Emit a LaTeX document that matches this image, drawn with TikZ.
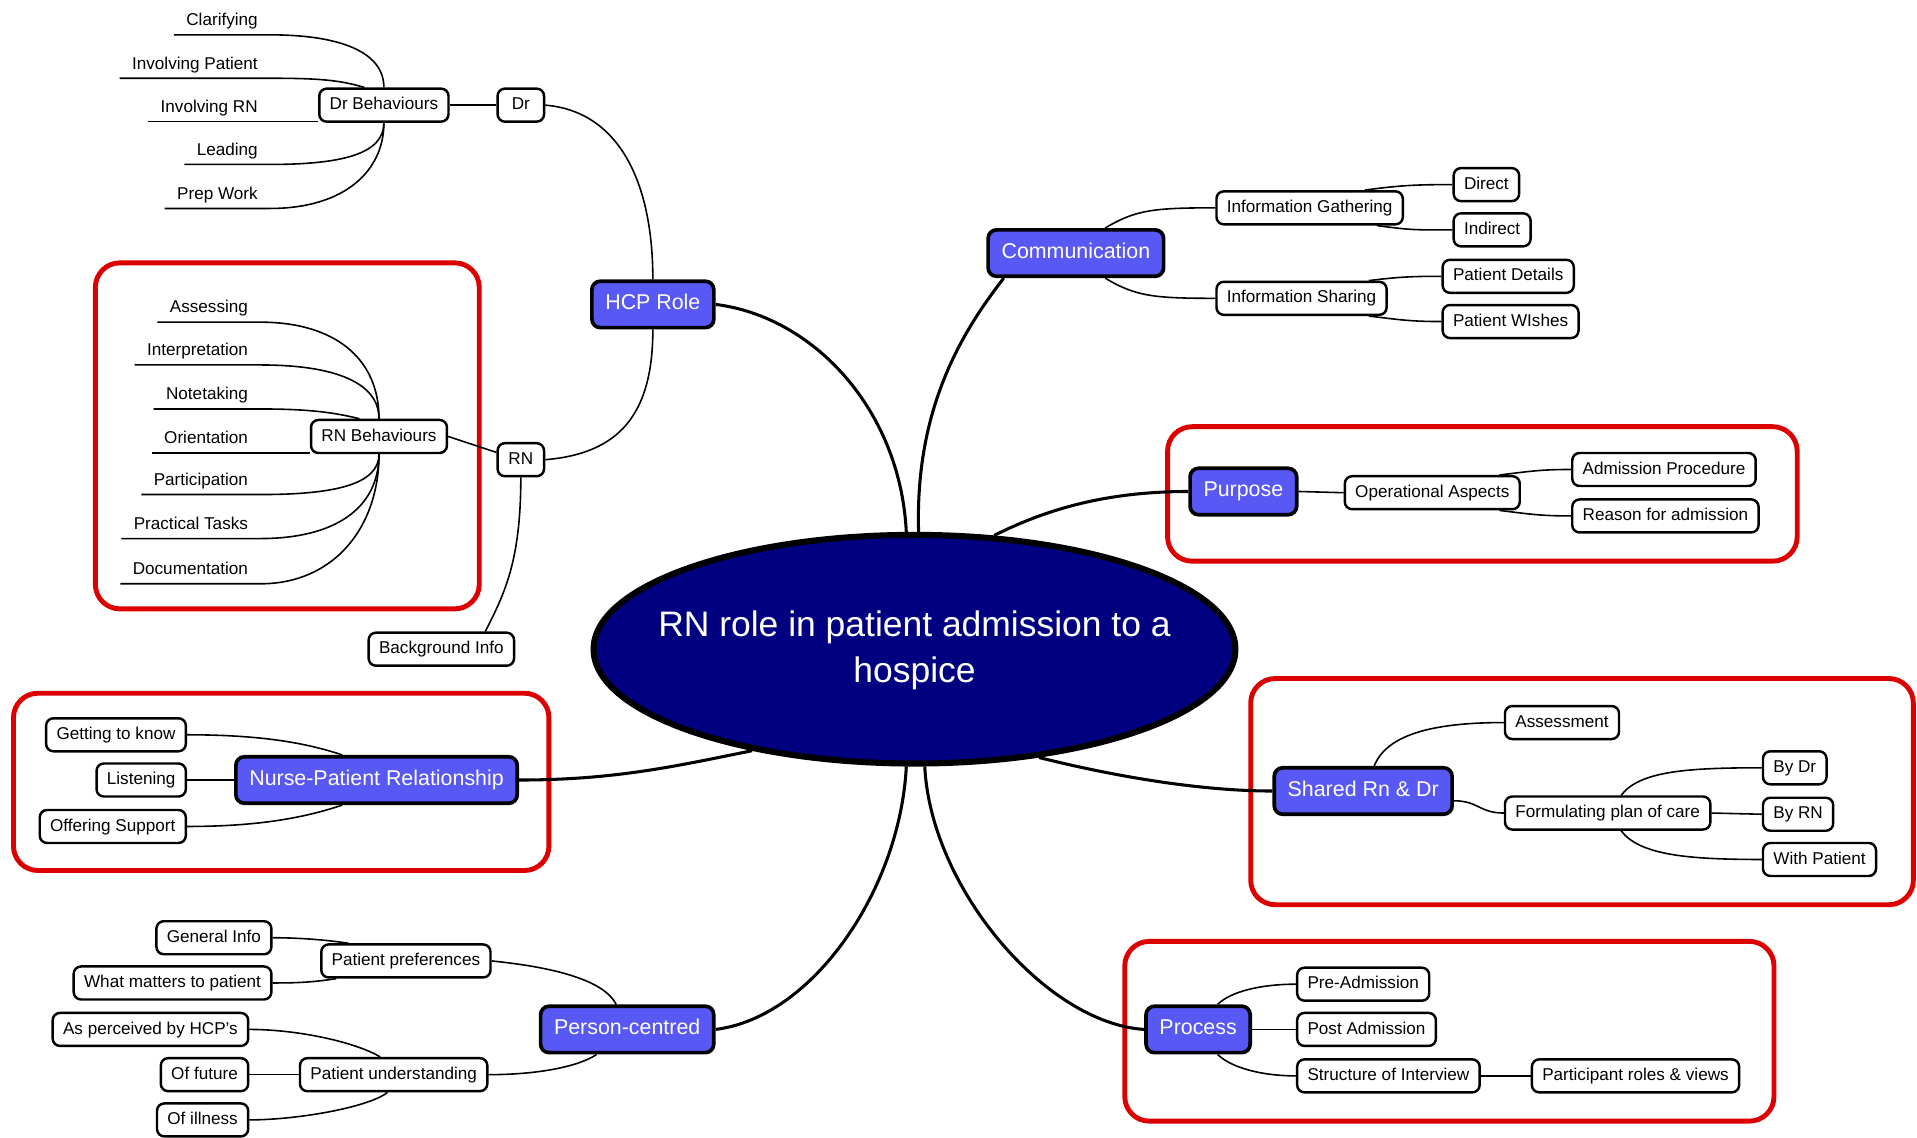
\documentclass[tikz,border=0pt]{standalone}
\usepackage{fontspec}
\setmainfont{Liberation Sans}
\usetikzlibrary{shapes.geometric,calc}

\definecolor{mainblue}{RGB}{88,88,245}
\definecolor{hubnavy}{RGB}{0,0,128}
\definecolor{grpred}{RGB}{220,0,0}

\pgfdeclarelayer{back}
\pgfdeclarelayer{edges}
\pgfsetlayers{back,edges,main}

\begin{document}
\begin{tikzpicture}[x=1pt,y=-1pt,
  hub/.style={ellipse,draw=black,line width=5pt,fill=hubnavy,
    minimum width=525pt,minimum height=187pt,inner sep=0pt},
  hubtext/.style={text=white,align=center,inner sep=0pt,
    font=\fontsize{29}{37}\selectfont},
  topic/.style={draw=black,line width=3pt,rounded corners=7pt,fill=mainblue,
    text=white,font=\fontsize{17.5}{20}\selectfont,minimum height=38pt,
    inner xsep=11pt,inner ysep=0pt,text height=13pt,text depth=4pt},
  item/.style={draw=black,line width=2pt,rounded corners=6pt,fill=white,
    font=\fontsize{14}{16}\selectfont,minimum height=27pt,minimum width=38pt,
    inner xsep=8.5pt,inner ysep=0pt,text height=10.5pt,text depth=3pt},
  uleaf/.style={inner xsep=10pt,inner ysep=0pt,anchor=base east,
    font=\fontsize{14}{16}\selectfont},
  group/.style={draw=grpred,line width=4pt,rounded corners=20pt},
  trunk/.style={line width=2.5pt},
  twig/.style={line width=1.3pt},
]
\useasboundingbox (0,0) rectangle (1568,930);

% ---------- central topic ----------
\node[hub] (hub) at (748,531) {};
\node[hubtext] (hubtext) at (748,532) {RN role in patient admission to a\\hospice};

% ---------- main topics ----------
\node[topic] (hcp) at (534,249) {HCP Role};
\node[topic] (comm) at (880,207) {Communication};
\node[topic] (purp) at (1017,402) {Purpose};
\node[topic] (shared) at (1115,647) {Shared Rn \& Dr};
\node[topic] (proc) at (980,842) {Process};
\node[topic] (pc) at (513,842) {Person-centred};
\node[topic] (npr) at (308,638) {Nurse-Patient Relationship};

% ---------- HCP role branch ----------
\node[item] (drb) at (314,86) {Dr Behaviours};
\node[item] (dr) at (426,86) {Dr};
\node[item] (rnb) at (310,357) {RN Behaviours};
\node[item] (rn) at (426,376) {RN};
\node[item] (bg) at (361,531) {Background Info};

\node[uleaf] (clar) at (221,21) {Clarifying};
\node[uleaf] (invp) at (221,56.5) {Involving Patient};
\node[uleaf] (invrn) at (221,92) {Involving RN};
\node[uleaf] (lead) at (221,127) {Leading};
\node[uleaf] (prep) at (221,163) {Prep Work};

\node[uleaf] (asg) at (213,256) {Assessing};
\node[uleaf] (intp) at (213,291) {Interpretation};
\node[uleaf] (note) at (213,327) {Notetaking};
\node[uleaf] (orient) at (213,363) {Orientation};
\node[uleaf] (part) at (213,397) {Participation};
\node[uleaf] (prac) at (213,433) {Practical Tasks};
\node[uleaf] (docu) at (213,470) {Documentation};

% ---------- communication branch ----------
\node[item,anchor=west] (ig) at (994,170) {Information Gathering};
\node[item,anchor=west] (direct) at (1188,151) {Direct};
\node[item,anchor=west] (indirect) at (1188,188) {Indirect};
\node[item,anchor=west] (is) at (994,244) {Information Sharing};
\node[item,anchor=west] (pdet) at (1179,226) {Patient Details};
\node[item,anchor=west] (pwish) at (1179,263) {Patient WIshes};

% ---------- purpose branch ----------
\node[item,anchor=west] (oa) at (1099,403) {Operational Aspects};
\node[item,anchor=west] (ap) at (1285,384) {Admission Procedure};
\node[item,anchor=west] (rfa) at (1285,422) {Reason for admission};

% ---------- shared branch ----------
\node[item,anchor=west] (assess) at (1230,591) {Assessment};
\node[item,anchor=west] (fpc) at (1230,665) {Formulating plan of care};
\node[item,anchor=west] (bydr) at (1441,628) {By Dr};
\node[item,anchor=west] (byrn) at (1441,666) {By RN};
\node[item,anchor=west] (withp) at (1441,703) {With Patient};

% ---------- process branch ----------
\node[item,anchor=west] (pre) at (1060,805) {Pre-Admission};
\node[item,anchor=west] (post) at (1060,842) {Post Admission};
\node[item,anchor=west] (soi) at (1060,880) {Structure of Interview};
\node[item,anchor=west] (prv) at (1252,880) {Participant roles \& views};

% ---------- nurse-patient branch ----------
\node[item,anchor=east] (gtk) at (153,601) {Getting to know};
\node[item,anchor=east] (listen) at (153,638) {Listening};
\node[item,anchor=east] (offer) at (153,676) {Offering Support};

% ---------- person-centred branch ----------
\node[item] (pp) at (332,786) {Patient preferences};
\node[item,anchor=east] (geninfo) at (223,767) {General Info};
\node[item,anchor=east] (wm) at (223,804) {What matters to patient};
\node[item] (pu) at (322,879) {Patient understanding};
\node[item,anchor=east] (aph) at (204,842) {As perceived by HCP's};
\node[item,anchor=east] (future) at (204,879) {Of future};
\node[item,anchor=east] (illness) at (204,916) {Of illness};

% ---------- backdrop and group frames ----------
\begin{pgfonlayer}{back}
  \fill[white] (0,0) rectangle (1568,930);
  \draw[group] (78,215) rectangle (392,498);
  \draw[group] (955,349) rectangle (1470,459);
  \draw[group] (11,567) rectangle (449,712);
  \draw[group] (1023,555) rectangle (1565,740);
  \draw[group] (920,770) rectangle (1451,917);
\end{pgfonlayer}

% ---------- connectors ----------
\begin{pgfonlayer}{edges}
  % central topic to main topics
  \draw[trunk] (hcp.east) .. controls +(80,10) and +(-5,-100) .. (hub.94);
  \draw[trunk] ([xshift=-59pt]comm.south) .. controls +(-35,45) and +(-3,-100) .. (hub.88);
  \draw[trunk] (hub.55) .. controls +(40,-20) and +(-70,0) .. (purp.west);
  \draw[trunk] (hub.319) .. controls +(60,15) and +(-60,0) .. (shared.west);
  \draw[trunk] (hub.275) .. controls +(5,100) and +(-80,-5) .. (proc.west);
  \draw[trunk] (pc.east) .. controls +(80,-10) and +(-5,100) .. (hub.266);
  \draw[trunk] (npr.east) .. controls +(80,0) and +(-60,12) .. (hub.212);

  % HCP role
  \draw[twig] (drb.east) -- (dr.west);
  \draw[twig] (dr.east) .. controls +(60,5) and +(0,-80) .. (hcp.north);
  \draw[twig] (rn.east) .. controls +(60,-5) and +(0,70) .. (hcp.south);
  \draw[twig] (rnb.east) -- ([yshift=6pt]rn.west);
  \draw[twig] (rn.south) .. controls +(0,70) and +(15,-30) .. ([xshift=36pt]bg.north);

  % Dr behaviours
  \draw[twig] ([yshift=-7.5pt]clar.base west) -- ([yshift=-7.5pt]clar.base east)
    .. controls +(55,0) and +(0,-30) .. (drb.north);
  \draw[twig] ([yshift=-7.5pt]invp.base west) -- ([yshift=-7.5pt]invp.base east)
    .. controls +(40,0) and +(-20,-6) .. ([xshift=-16pt]drb.north);
  \coordinate (u1) at ([yshift=-7.5pt]invrn.base west);
  \draw[twig] (u1) -- (u1 -| drb.west);
  \draw[twig] ([yshift=-7.5pt]lead.base west) -- ([yshift=-7.5pt]lead.base east)
    .. controls +(60,0) and +(0,25) .. (drb.south);
  \draw[twig] ([yshift=-7.5pt]prep.base west) -- ([yshift=-7.5pt]prep.base east)
    .. controls +(60,0) and +(0,40) .. (drb.south);

  % RN behaviours
  \draw[twig] ([yshift=-7.5pt]asg.base west) -- ([yshift=-7.5pt]asg.base east)
    .. controls +(60,0) and +(0,-50) .. (rnb.north);
  \draw[twig] ([yshift=-7.5pt]intp.base west) -- ([yshift=-7.5pt]intp.base east)
    .. controls +(60,0) and +(0,-30) .. (rnb.north);
  \draw[twig] ([yshift=-7.5pt]note.base west) -- ([yshift=-7.5pt]note.base east)
    .. controls +(40,0) and +(-20,-5) .. ([xshift=-16pt]rnb.north);
  \coordinate (u2) at ([yshift=-7.5pt]orient.base west);
  \draw[twig] (u2) -- (u2 -| rnb.west);
  \draw[twig] ([yshift=-7.5pt]part.base west) -- ([yshift=-7.5pt]part.base east)
    .. controls +(60,0) and +(0,25) .. (rnb.south);
  \draw[twig] ([yshift=-7.5pt]prac.base west) -- ([yshift=-7.5pt]prac.base east)
    .. controls +(60,0) and +(0,45) .. (rnb.south);
  \draw[twig] ([yshift=-7.5pt]docu.base west) -- ([yshift=-7.5pt]docu.base east)
    .. controls +(60,0) and +(0,60) .. (rnb.south);

  % communication
  \draw[twig] ([xshift=24pt]comm.north) .. controls +(25,-15) and +(-50,0) .. (ig.west);
  \draw[twig] ([xshift=24pt]comm.south) .. controls +(25,15) and +(-50,0) .. (is.west);
  \draw[twig] ([xshift=45pt]ig.north) .. controls +(30,-4) and +(-30,0) .. (direct.west);
  \draw[twig] ([xshift=55pt]ig.south) .. controls +(30,4) and +(-30,0) .. (indirect.west);
  \draw[twig] ([xshift=55pt]is.north) .. controls +(25,-3) and +(-25,0) .. (pdet.west);
  \draw[twig] ([xshift=55pt]is.south) .. controls +(25,3) and +(-25,0) .. (pwish.west);

  % purpose
  \draw[twig] (purp.east) -- (oa.west);
  \draw[twig] ([xshift=55pt]oa.north) .. controls +(25,-3) and +(-25,0) .. (ap.west);
  \draw[twig] ([xshift=55pt]oa.south) .. controls +(25,3) and +(-25,0) .. (rfa.west);

  % shared
  \draw[twig] ([xshift=9pt]shared.north) .. controls +(10,-25) and +(-60,0) .. (assess.west);
  \draw[twig] ([yshift=-8pt]shared.east) .. controls +(20,0) and +(-20,0) .. (fpc.west);
  \draw[twig] ([xshift=11pt]fpc.north) .. controls +(15,-20) and +(-60,0) .. (bydr.west);
  \draw[twig] (fpc.east) -- (byrn.west);
  \draw[twig] ([xshift=11pt]fpc.south) .. controls +(15,20) and +(-60,0) .. (withp.west);

  % process
  \draw[twig] ([xshift=16pt]proc.north) .. controls +(10,-10) and +(-30,0) .. (pre.west);
  \draw[twig] (proc.east) -- (post.west);
  \draw[twig] ([xshift=16pt]proc.south) .. controls +(10,10) and +(-30,0) .. (soi.west);
  \draw[twig] (soi.east) -- (prv.west);

  % nurse-patient relationship
  \draw[twig] ([xshift=-28pt]npr.north) .. controls +(-30,-10) and +(60,0) .. (gtk.east);
  \draw[twig] (npr.west) -- (listen.east);
  \draw[twig] ([xshift=-28pt]npr.south) .. controls +(-30,10) and +(60,0) .. (offer.east);

  % person-centred
  \draw[twig] ([xshift=-9pt]pc.north) .. controls +(-10,-20) and +(50,5) .. (pp.east);
  \draw[twig] ([xshift=-25pt]pc.south) .. controls +(-15,10) and +(40,0) .. (pu.east);
  \draw[twig] ([xshift=-47pt]pp.north) .. controls +(-20,-3) and +(20,0) .. (geninfo.east);
  \draw[twig] ([xshift=-57pt]pp.south) .. controls +(-20,3) and +(20,0) .. (wm.east);
  \draw[twig] ([xshift=-11pt]pu.north) .. controls +(-20,-12) and +(40,0) .. (aph.east);
  \draw[twig] (pu.west) -- (future.east);
  \draw[twig] ([xshift=-5pt]pu.south) .. controls +(-15,12) and +(40,0) .. (illness.east);
\end{pgfonlayer}
\end{tikzpicture}
\end{document}
